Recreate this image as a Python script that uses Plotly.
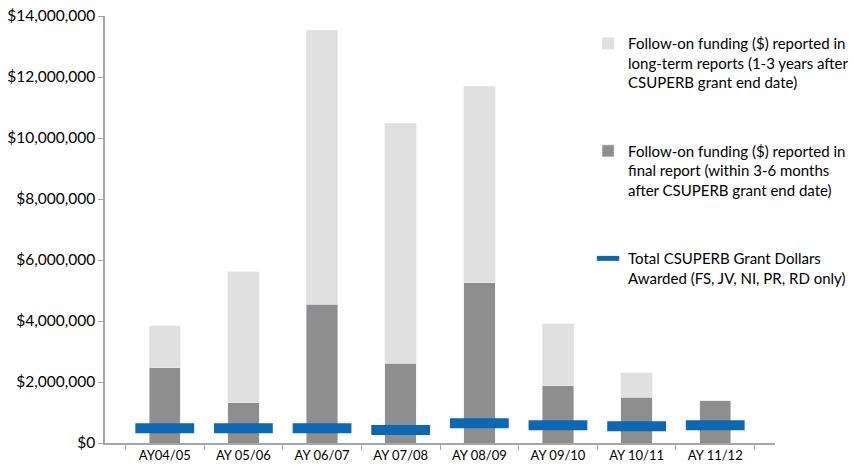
import plotly.graph_objects as go

categories = ["AY04/05", "AY 05/06", "AY 06/07", "AY 07/08", "AY 08/09", "AY 09/10", "AY 10/11", "AY 11/12"]
final_report = [2470000, 1320000, 4550000, 2610000, 5250000, 1880000, 1500000, 1390000]
total_followon = [3850000, 5620000, 13540000, 10490000, 11700000, 3910000, 2300000, 1390000]
long_term = [t - f for t, f in zip(total_followon, final_report)]
grant_awarded = [480000, 480000, 480000, 430000, 650000, 580000, 550000, 580000]
y_ticks = [0, 2000000, 4000000, 6000000, 8000000, 10000000, 12000000, 14000000]

name_long = "Follow-on funding ($) reported in<br>long-term reports (1-3 years after<br>CSUPERB grant end date)"
name_final = "Follow-on funding ($) reported in<br>final report (within 3-6 months<br>after CSUPERB grant end date)"
name_grant = "Total CSUPERB Grant Dollars<br>Awarded (FS, JV, NI, PR, RD only)"

fig = go.Figure()
fig.add_trace(go.Bar(x=categories, y=final_report, name=name_final, marker_color="#8e8e8e",
                     legendgroup="b", legendrank=2))
fig.add_trace(go.Bar(x=categories, y=long_term, name=name_long, marker_color="#e0e0e0",
                     legendgroup="a", legendrank=1))
fig.add_trace(go.Scatter(x=categories, y=grant_awarded, name=name_grant, mode="markers",
                         marker=dict(symbol="line-ew", size=42, line=dict(width=10, color="#0a68b4")),
                         legendgroup="c", legendrank=3))

font = "Lato, 'Open Sans', sans-serif"
fig.update_layout(
    barmode="stack",
    bargap=0.6,
    width=854, height=471,
    margin=dict(l=105, r=79, t=16, b=28, autoexpand=False),
    plot_bgcolor="white", paper_bgcolor="white",
    font=dict(family=font, size=14, color="#000000"),
    showlegend=True,
    legend=dict(x=0.721, y=0.974, xanchor="left", yanchor="top", traceorder="grouped",
                tracegroupgap=46, valign="top", font=dict(size=15, family=font),
                bgcolor="rgba(0,0,0,0)", itemwidth=30),
    xaxis=dict(showline=True, linecolor="#a6a6a6", linewidth=1.5, ticks="outside",
               tickson="boundaries", tickcolor="#a6a6a6", ticklen=5, showgrid=False,
               tickfont=dict(size=13), automargin=False),
    yaxis=dict(range=[0, 14000000], tickvals=y_ticks,
               tickformat="$,d", showline=True, linecolor="#a6a6a6", linewidth=1.5,
               ticks="outside", tickcolor="#a6a6a6", ticklen=5, showgrid=False, zeroline=False,
               tickfont=dict(size=15.5), automargin=False),
)

fig.write_html("out.html", config={"displayModeBar": False},
               post_script="document.body.style.margin='0';document.body.style.overflow='hidden';")
